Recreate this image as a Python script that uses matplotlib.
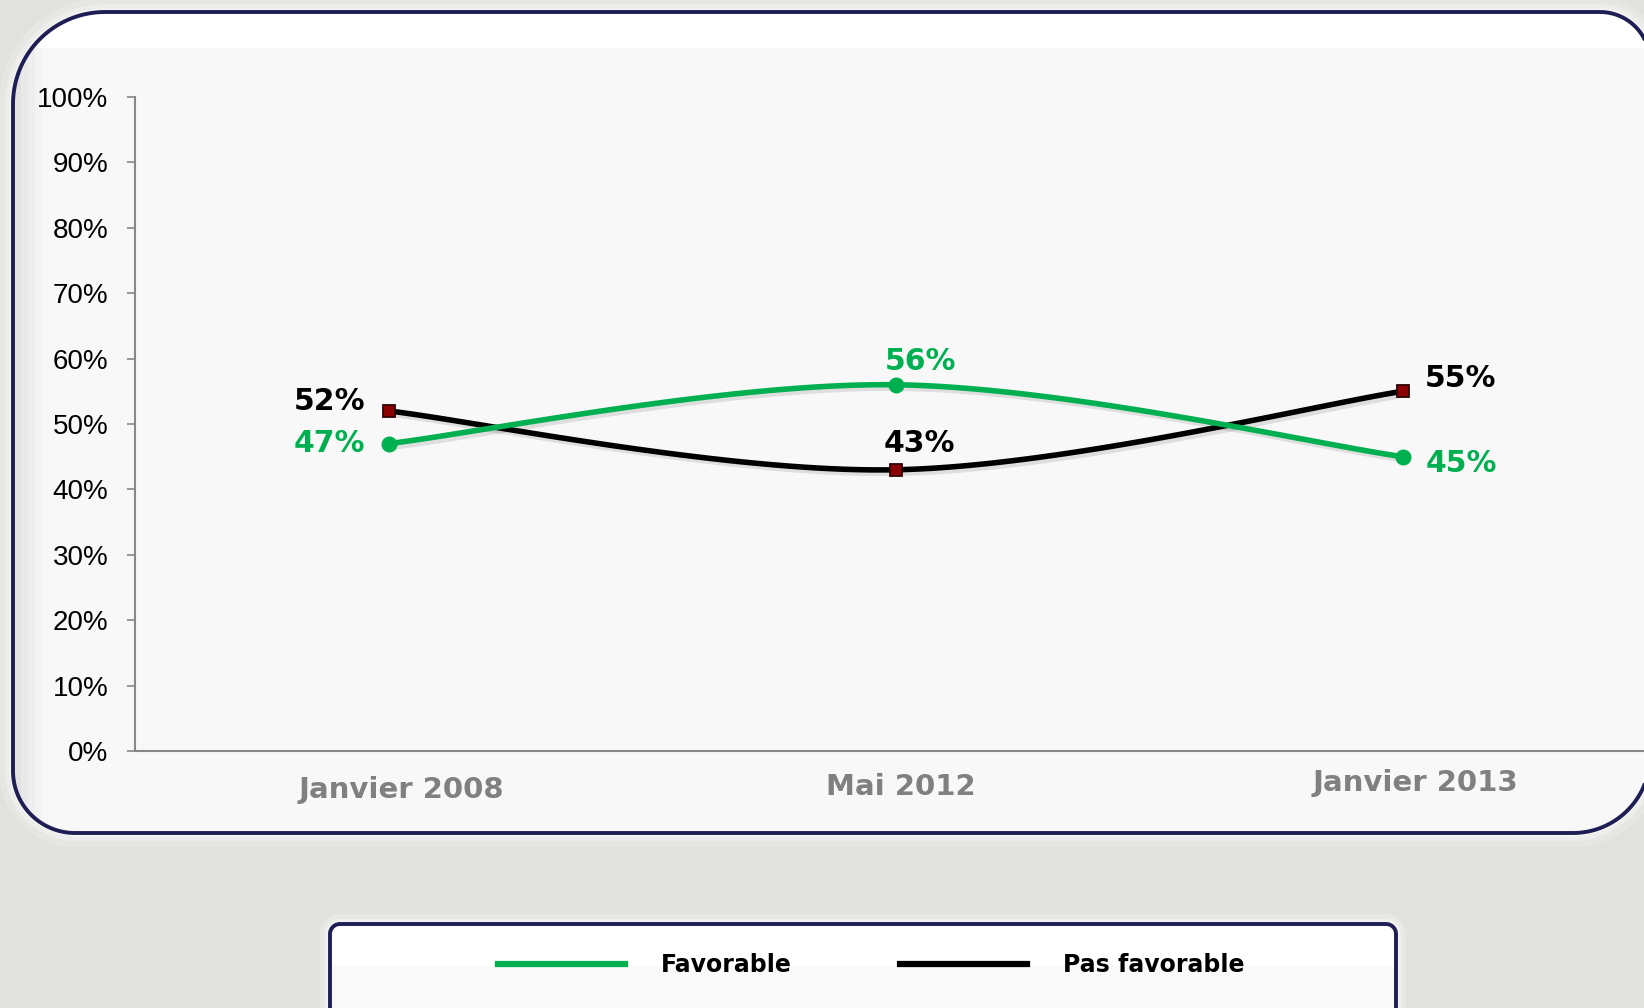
import numpy as np
import matplotlib
matplotlib.use("Agg")
import matplotlib.pyplot as plt
from matplotlib.patches import Rectangle, PathPatch
from matplotlib.path import Path
from matplotlib.lines import Line2D
import matplotlib.patheffects as pe

# ---- data ----
categories = ["Janvier 2008", "Mai 2012", "Janvier 2013"]
favorable = [47, 56, 45]
pas_favorable = [52, 43, 55]
y_ticks = [0, 10, 20, 30, 40, 50, 60, 70, 80, 90, 100]
series_names = ["Favorable", "Pas favorable"]

GREEN = "#00B050"
BLACK = "#000000"
NAVY = "#1e1e55"
BOLDF = ["DejaVu Sans Condensed", "DejaVu Sans"]
NARROW = ["Liberation Sans Narrow", "DejaVu Sans Condensed", "DejaVu Sans"]

W, H = 1644, 1008
fig = plt.figure(figsize=(W / 100, H / 100), dpi=100)
fig.patch.set_facecolor("#e1e2dd")

# background decoration axes in pixel units (y downward)
bg = fig.add_axes([0, 0, 1, 1], zorder=0)
bg.set_xlim(0, W)
bg.set_ylim(H, 0)
bg.axis("off")


def rounded_path(x0, y0, x1, y1, rtl, rtr, rbr, rbl, n=40):
    def arc(cx, cy, r, a0, a1):
        t = np.linspace(a0, a1, n)
        return np.column_stack([cx + r * np.cos(t), cy + r * np.sin(t)])
    pts = np.vstack([
        arc(x1 - rtr, y0 + rtr, rtr, -np.pi / 2, 0),
        arc(x1 - rbr, y1 - rbr, rbr, 0, np.pi / 2),
        arc(x0 + rbl, y1 - rbl, rbl, np.pi / 2, np.pi),
        arc(x0 + rtl, y0 + rtl, rtl, np.pi, 1.5 * np.pi),
    ])
    pts = np.vstack([pts, pts[:1]])
    codes = [Path.MOVETO] + [Path.LINETO] * (len(pts) - 2) + [Path.CLOSEPOLY]
    return Path(pts, codes)


ppath = rounded_path(13, 12, 1650, 833, 92, 50, 77, 62)
for lw, a in [(20, 0.2), (11, 0.3), (5, 0.45)]:
    bg.add_patch(PathPatch(ppath, facecolor="none", edgecolor="white", lw=lw, alpha=a))
panel = PathPatch(ppath, facecolor="#f8f8f8", edgecolor="none")
bg.add_patch(panel)
band = Rectangle((0, 0), W, 48, facecolor="white", edgecolor="none")
bg.add_patch(band)
band.set_clip_path(panel)
# slight shading along left inner border
for i, a in enumerate([0.06, 0.045, 0.03, 0.018, 0.008]):
    r = Rectangle((13, 0), 8 + i * 7, H, facecolor="#707080", edgecolor="none", alpha=a)
    bg.add_patch(r)
    r.set_clip_path(panel)
bg.add_patch(PathPatch(ppath, facecolor="none", edgecolor=NAVY, lw=2.8))

# legend box
lpath = rounded_path(330, 924, 1396, 1060, 10, 10, 10, 10)
for lw, a in [(14, 0.25), (7, 0.4)]:
    bg.add_patch(PathPatch(lpath, facecolor="none", edgecolor="white", lw=lw, alpha=a))
lbox = PathPatch(lpath, facecolor="#f9f9f9", edgecolor="none")
bg.add_patch(lbox)
lband = Rectangle((330, 924), 1066, 42, facecolor="white", edgecolor="none")
bg.add_patch(lband)
lband.set_clip_path(lbox)
bg.add_patch(PathPatch(lpath, facecolor="none", edgecolor=NAVY, lw=2.8))

# ---- main axes ----
left, right = 135, 1656
bottom_px, top_px = 751, 97
ax = fig.add_axes([left / W, (H - bottom_px) / H, (right - left) / W, (bottom_px - top_px) / H], zorder=2)
ax.set_facecolor("none")
x = np.arange(len(categories))
ax.set_xlim(-0.5, len(categories) - 0.5)
ax.set_ylim(0, 100)


def smooth(xs, ys, n=60):
    P = np.column_stack([xs, ys]).astype(float)
    ext = np.vstack([P[0], P, P[-1]])
    out = []
    for i in range(len(P) - 1):
        p0, p1, p2, p3 = ext[i], ext[i + 1], ext[i + 2], ext[i + 3]
        c1 = p1 + (p2 - p0) / 6.0
        c2 = p2 - (p3 - p1) / 6.0
        t = np.linspace(0, 1, n)[:, None]
        seg = (1 - t) ** 3 * p1 + 3 * (1 - t) ** 2 * t * c1 + 3 * (1 - t) * t ** 2 * c2 + t ** 3 * p2
        out.append(seg if i == 0 else seg[1:])
    s = np.vstack(out)
    return s[:, 0], s[:, 1]


shadow = [pe.SimpleLineShadow(offset=(2.5, -2.5), alpha=0.1, shadow_color="black"), pe.Normal()]

sx, sy = smooth(x, pas_favorable)
ax.plot(sx, sy, color=BLACK, lw=4, solid_capstyle="round", path_effects=shadow, zorder=3)
ax.plot(x, pas_favorable, ls="none", marker="s", ms=8.5, mfc="#8b0000", mec="#300000", mew=1.3, zorder=5)

sx, sy = smooth(x, favorable)
ax.plot(sx, sy, color=GREEN, lw=4, solid_capstyle="round", path_effects=shadow, zorder=4)
ax.plot(x, favorable, ls="none", marker="o", ms=10.5, mfc=GREEN, mec=GREEN, zorder=6)

# data labels
lab_off_fav = [(-17, 0, "right"), (18, 17, "center"), (17, -5, "left")]
lab_off_pas = [(-17, 7, "right"), (17, 19, "center"), (16, 9, "left")]
for i, v in enumerate(favorable):
    dx, dy, ha = lab_off_fav[i]
    ax.annotate(f"{v}%", (x[i], v), xytext=(dx, dy), textcoords="offset points",
                ha=ha, va="center", fontsize=21.5, fontweight="bold", color=GREEN, family=BOLDF, zorder=7)
for i, v in enumerate(pas_favorable):
    dx, dy, ha = lab_off_pas[i]
    ax.annotate(f"{v}%", (x[i], v), xytext=(dx, dy), textcoords="offset points",
                ha=ha, va="center", fontsize=21.5, fontweight="bold", color=BLACK, family=BOLDF, zorder=7)

# axes styling
ax.set_yticks(y_ticks)
ax.set_yticklabels([f"{t}%" for t in y_ticks], fontsize=20, family=["Liberation Sans", "DejaVu Sans"])
ax.tick_params(axis="y", length=6, width=1.2, color="#888888", pad=13, direction="out")
ax.set_xticks(x)
ax.set_xticklabels([])
ax.tick_params(axis="x", length=0)
for s in ["top", "right"]:
    ax.spines[s].set_visible(False)
for s in ["left", "bottom"]:
    ax.spines[s].set_color("#888888")
    ax.spines[s].set_linewidth(1.5)

xl_off = [(9, -28), (4, -26), (9, -23)]
for i, c in enumerate(categories):
    ax.annotate(c, (x[i], 0), xytext=xl_off[i], textcoords="offset points", ha="center", va="center",
                fontsize=21, fontweight="bold", color="#808080", family=BOLDF, annotation_clip=False)

# legend
handles = [Line2D([], [], color=GREEN, lw=4.5), Line2D([], [], color=BLACK, lw=4.5)]
leg = fig.legend(handles, series_names, loc="center", bbox_to_anchor=(871 / W, (H - 965) / H),
                 ncol=2, frameon=False, handlelength=5.4, handletextpad=1.5, columnspacing=4.6,
                 prop={"family": NARROW, "weight": "bold", "size": 17})
leg.set_zorder(5)

fig.savefig("out.png", dpi=100, facecolor=fig.get_facecolor())
